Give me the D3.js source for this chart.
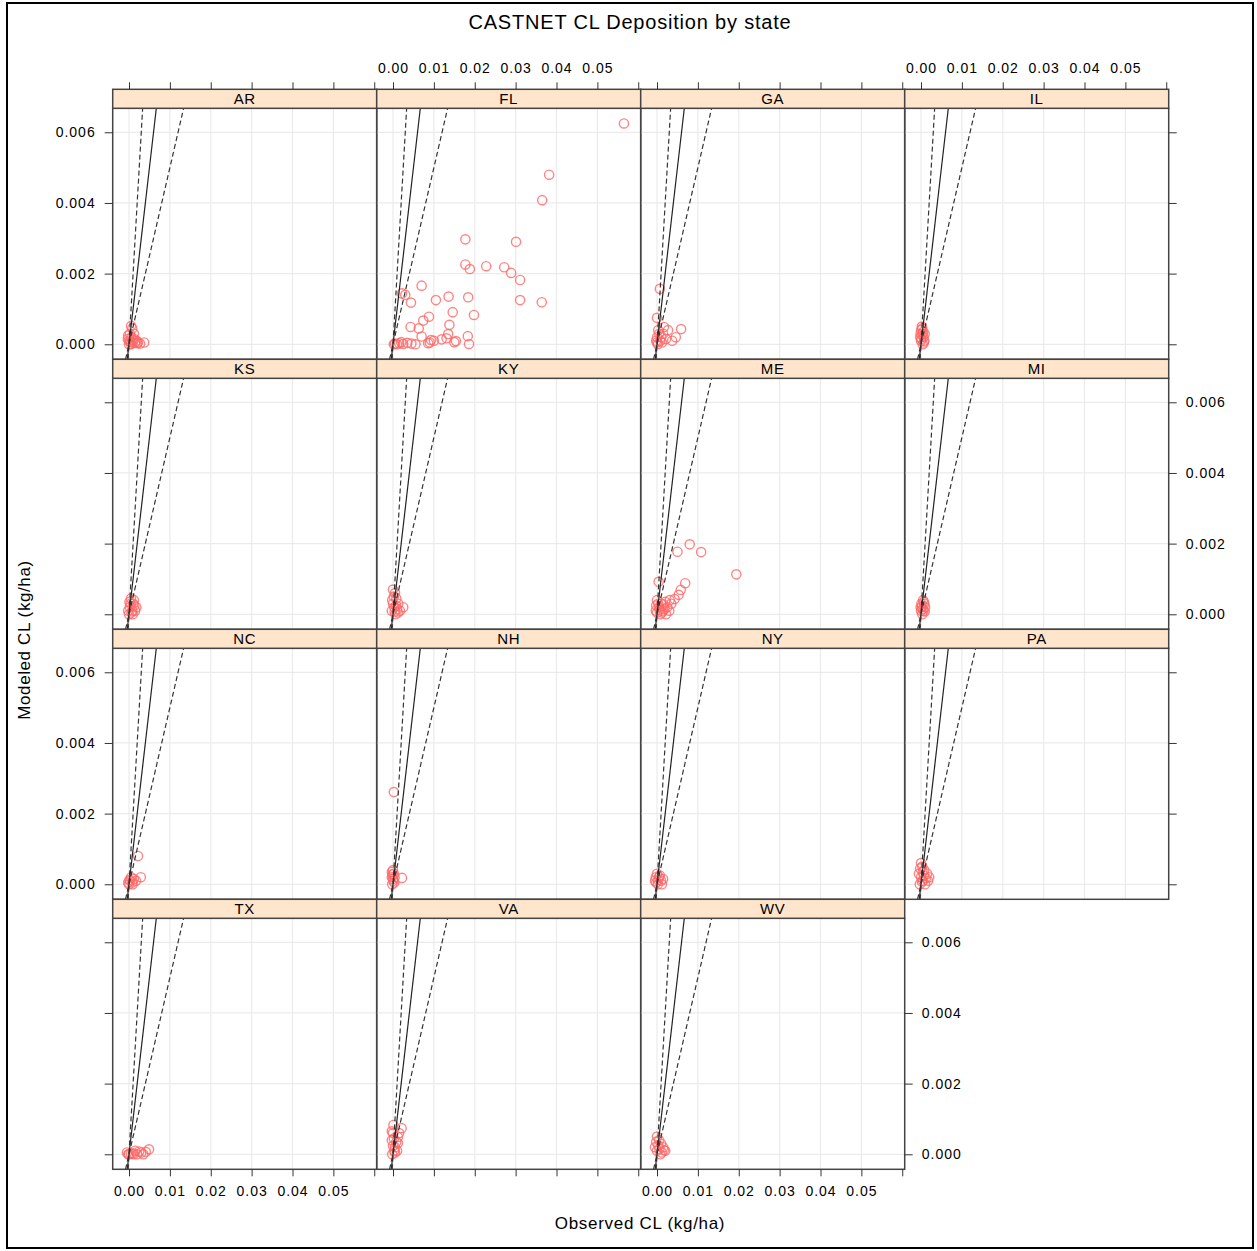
<!DOCTYPE html>
<html><head><meta charset="utf-8">
<script src="https://cdn.jsdelivr.net/npm/d3@7"></script>
<style>
body{margin:0;background:#fff;}
text{font-family:"Liberation Sans",Arial,sans-serif;fill:#000;}
</style></head>
<body><svg id="c" width="1257" height="1251"></svg>
<script>
// ---- data (observed, modeled) in kg/ha ----
const states = ["AR","FL","GA","IL","KS","KY","ME","MI","NC","NH","NY","PA","TX","VA","WV"];
const xTicks = [0,0.01,0.02,0.03,0.04,0.05,0.06];
const xLabels = ["0.00","0.01","0.02","0.03","0.04","0.05",""];
const yTicks = [0,0.002,0.004,0.006];
const yLabels = ["0.000","0.002","0.004","0.006"];

const AR = [[0.0005,0.00052],[0.0008,0.00045],[0.0002,0.0003],[0.0006,0.0002],[0.0,0.0001],[0.001,0.00012],[0.0015,0.00005],[0.0005,0.0],[0.002,0.00003],[0.0027,0.00002],[0.0037,0.00005],[-0.0003,0.00015],[0.0012,0.0003],[0.0,0.0],[0.0003,0.00008],[0.0009,0.00004],[0.0013,0.00015],[-0.0002,0.00025],[0.0018,0.0001],[0.0022,0.00006]];
const FL = [[0.0565,0.00625],[0.0382,0.0048],[0.0365,0.00408],[0.0177,0.00297],[0.0301,0.0029],[0.0177,0.00226],[0.0188,0.00213],[0.0228,0.00221],[0.0272,0.00218],[0.0289,0.00202],[0.0311,0.00182],[0.0070,0.00166],[0.0022,0.00144],[0.0030,0.0014],[0.0044,0.00118],[0.0105,0.00125],[0.0136,0.00135],[0.0184,0.00133],[0.0311,0.00125],[0.0364,0.00119],[0.0146,0.00091],[0.0198,0.00083],[0.0088,0.00078],[0.0074,0.00067],[0.0138,0.00055],[0.0043,0.00049],[0.0063,0.00045],[0.0070,0.00022],[0.0135,0.00029],[0.0183,0.00023],[0.0093,0.00012],[0.0119,0.00014],[0.0154,0.00009],[0.0186,0.00001],[0.0086,0.00003],[0.0131,0.00017],[0.0150,0.00006],[0.0005,0.00002],[0.0015,0.00003],[0.0025,0.00001],[0.0035,0.00004],[0.0045,0.00002],[0.0055,0.0],[0.0010,0.0],[0.0100,0.0001],[0.0090,0.00005],[0.0002,0.0],[0.0020,0.00006]];
const GA = [[0.0007,0.00157],[0.0,0.00075],[0.0017,0.00049],[0.0027,0.0004],[0.0059,0.00043],[0.0046,0.0002],[0.0037,0.0001],[0.0015,0.0003],[0.0003,0.0004],[0.0,0.0002],[0.0008,0.0001],[0.0002,0.0],[0.001,0.0002],[0.0022,0.00015],[0.0,0.00005],[0.0005,0.0003],[0.0012,0.00005],[-0.0002,0.0001]];
const IL = [[0.0,0.0004],[0.0003,0.0003],[0.0006,0.0002],[0.0,0.0001],[0.0004,0.0],[0.0008,0.0001],[0.0002,0.0005],[0.0009,0.0003],[-0.0002,0.0002],[0.0001,0.00015],[0.0005,0.00035],[0.0007,0.00005],[-0.0001,0.0003],[0.0003,0.00045]];
const KS = [[0.0005,0.00045],[0.001,0.0003],[0.0002,0.0002],[0.0015,0.0001],[0.0,0.0],[0.0008,0.0001],[0.0018,0.0002],[-0.0002,0.0001],[0.0012,0.0004],[0.0004,0.0003],[0.0006,0.00005],[0.0013,0.00025],[0.0001,0.00035],[0.0009,0.0]];
const KY = [[0.0,0.0007],[0.0005,0.0006],[0.0008,0.00045],[0.0025,0.0002],[0.0013,0.0003],[0.0,0.0003],[-0.0003,0.0001],[0.0006,0.0],[0.0017,0.0001],[0.0003,0.0002],[0.001,0.00015],[0.0002,0.0005],[-0.0002,0.0004],[0.0012,0.00005],[0.0004,0.00008],[0.0008,0.00025]];
const ME = [[0.0080,0.00198],[0.0050,0.00177],[0.0108,0.00176],[0.0194,0.00113],[0.0004,0.00092],[0.0069,0.00088],[0.0058,0.00069],[0.0053,0.00055],[0.0043,0.00043],[0.0031,0.0004],[0.0035,0.0003],[0.002,0.00035],[0.0025,0.0002],[0.0015,0.0001],[0.0005,0.0002],[0.0,0.0004],[0.0008,0.0],[0.003,0.0001],[0.001,0.0003],[-0.0003,0.0001],[0.0018,0.00015],[0.0,0.00005],[0.0003,0.0003],[0.0012,0.00005],[0.0022,0.0],[0.0006,0.00012],[-0.0002,0.00025],[0.0016,0.00028]];
const MI = [[0.0005,0.0004],[0.0008,0.0003],[0.0002,0.0002],[0.0,0.0001],[0.0006,0.0001],[0.0010,0.0002],[0.0003,0.0],[0.0007,0.00035],[0.0001,0.0003],[0.0009,0.00008],[0.0004,0.00015],[-0.0001,0.0002]];
const NC = [[0.0022,0.0008],[0.0029,0.0002],[0.0017,0.0001],[0.0008,0.00005],[0.0003,0.0001],[0.0,0.0],[0.0012,0.00015],[0.0005,0.0002],[-0.0002,0.00005],[0.0001,0.00012],[0.0009,0.0]];
const NH = [[0.0002,0.00261],[0.0022,0.00018],[0.0,0.0004],[0.0002,0.0003],[-0.0003,0.0002],[0.0001,0.0001],[-0.0002,0.0],[0.0004,0.0002],[0.0,0.00015],[-0.0003,0.00035],[0.0003,0.00005],[-0.0001,0.00028]];
const NY = [[0.0,0.0003],[0.0005,0.0002],[0.0010,0.0001],[-0.0005,0.0001],[0.0002,0.0],[0.0015,0.00015],[0.0007,0.00025],[-0.0002,0.00005],[0.0003,0.00012],[0.0012,0.0],[-0.0003,0.0002]];
const PA = [[0.0,0.0006],[0.0003,0.0005],[0.0008,0.0004],[0.0015,0.0003],[0.002,0.0002],[0.0005,0.0001],[0.0,0.0002],[-0.0005,0.0003],[0.001,0.0],[0.0017,0.0001],[-0.0003,0.0],[0.0004,0.00035],[0.0012,0.00018],[-0.0002,0.00045],[0.0007,0.00025],[0.0002,0.00008]];
const TX = [[0.0049,0.00014],[0.0041,0.00007],[0.003,0.00005],[0.002,0.0],[0.001,0.00003],[0.0,0.0],[-0.0005,0.00005],[0.0015,0.0001],[0.0025,0.00008],[0.0005,0.00002],[0.0035,0.0],[0.0012,0.0],[-0.0002,0.0]];
const VA = [[0.0001,0.00083],[0.0021,0.00074],[0.0012,0.00049],[0.0012,0.00032],[0.0,0.00024],[0.0003,0.0001],[0.0005,0.00005],[-0.0003,0.0004],[0.0,0.0006],[0.001,0.0001],[-0.0002,0.0],[0.0008,0.00035],[-0.0003,0.00065],[0.0005,0.0002],[0.0002,0.00045],[0.0015,0.0006]];
const WV = [[0.0,0.0005],[0.0005,0.0004],[0.0010,0.0003],[0.0015,0.0002],[0.002,0.0001],[0.0,0.0001],[-0.0005,0.0002],[0.0008,0.0],[0.0003,0.00025],[0.0012,0.00005],[-0.0002,0.00035],[0.0006,0.00015],[0.0017,0.00012]];
const stateData = {AR,FL,GA,IL,KS,KY,ME,MI,NC,NH,NY,PA,TX,VA,WV};
const refSlopes = [1, 2, 0.5];

// ---- layout ----
const svg = d3.select("#c");
const W = 1257, H = 1251;
const L0 = 112.7, T0 = 89.3, PW = 264, PH = 270, SH = 19, NC_ = 4;
const xDom = [-0.00399, 0.0606], yDom = [-0.000425, 0.006679];
const fontSize = 14;

svg.append("rect").attr("x",0).attr("y",0).attr("width",W).attr("height",H).attr("fill","#fff");
svg.append("rect").attr("x",7).attr("y",3).attr("width",1246).attr("height",1245)
  .attr("fill","none").attr("stroke","#000").attr("stroke-width",2);

svg.append("text").attr("x",630).attr("y",29).attr("text-anchor","middle")
  .style("font-size","20px").style("letter-spacing","0.8px").text("CASTNET CL Deposition by state");
svg.append("text").attr("x",640).attr("y",1229).attr("text-anchor","middle")
  .style("font-size","17px").style("letter-spacing","0.7px").text("Observed CL (kg/ha)");
svg.append("text").attr("transform","translate(30,640) rotate(-90)").attr("text-anchor","middle")
  .style("font-size","17px").style("letter-spacing","0.6px").text("Modeled CL (kg/ha)");

const nRows = Math.ceil(states.length/NC_);
const defs = svg.append("defs");

function styleAxis(g){
  g.select(".domain").remove();
  g.selectAll(".tick line").attr("stroke","#333").attr("stroke-width",1);
  g.selectAll(".tick text").style("font-size",fontSize+"px").style("letter-spacing","1px")
    .style("font-family","'Liberation Sans',Arial,sans-serif").attr("fill","#000");
}

states.forEach((st,i)=>{
  const r = Math.floor(i/NC_), c = i%NC_;
  const left = L0 + c*PW, top = T0 + r*PH;
  const pTop = top + SH, pBot = top + PH;
  const x = d3.scaleLinear().domain(xDom).range([left, left+PW]);
  const y = d3.scaleLinear().domain(yDom).range([pBot, pTop]);
  const g = svg.append("g");
  const cid = "clip"+i;
  defs.append("clipPath").attr("id",cid).append("rect")
    .attr("x",left).attr("y",pTop).attr("width",PW).attr("height",pBot-pTop);

  // grid
  g.selectAll(".gx").data(xTicks.slice(0,6)).join("line")
    .attr("x1",d=>x(d)).attr("x2",d=>x(d)).attr("y1",pTop).attr("y2",pBot)
    .attr("stroke","#ebebeb").attr("stroke-width",1.2);
  g.selectAll(".gy").data(yTicks).join("line")
    .attr("y1",d=>y(d)).attr("y2",d=>y(d)).attr("x1",left).attr("x2",left+PW)
    .attr("stroke","#ebebeb").attr("stroke-width",1.2);

  const cg = g.append("g").attr("clip-path",`url(#${cid})`);
  // points
  cg.selectAll("circle").data(stateData[st]).join("circle")
    .attr("cx",d=>x(d[0])).attr("cy",d=>y(d[1])).attr("r",4.6)
    .attr("fill","none").attr("stroke","#f66").attr("stroke-opacity",0.8).attr("stroke-width",1.4);
  // reference lines
  refSlopes.forEach(s=>{
    const x0 = yDom[0]/s, x1 = yDom[1]/s;
    cg.append("line").attr("x1",x(x0)).attr("y1",y(yDom[0])).attr("x2",x(x1)).attr("y2",y(yDom[1]))
      .attr("stroke", s===1 ? "#222" : "#333").attr("stroke-width",1.2)
      .attr("stroke-dasharray", s===1 ? null : "5,3");
  });

  // panel border
  g.append("rect").attr("x",left).attr("y",pTop).attr("width",PW).attr("height",pBot-pTop)
    .attr("fill","none").attr("stroke","#444").attr("stroke-width",1.5);
  // strip
  g.append("rect").attr("x",left).attr("y",top).attr("width",PW).attr("height",SH)
    .attr("fill","#ffe5cc").attr("stroke","#444").attr("stroke-width",1.5);
  g.append("text").attr("x",left+PW/2).attr("y",top+SH/2+5.5).attr("text-anchor","middle")
    .style("font-size","15px").style("letter-spacing","0.6px").text(st);

  const xl = d=>xLabels[xTicks.indexOf(d)];
  const yl = d=>yLabels[yTicks.indexOf(d)];
  const lastCol = (c===NC_-1) || (i===states.length-1);
  const isBottom = (i + NC_ >= states.length);

  // top axis (first row)
  if(r===0){
    const ax = d3.axisTop(x).tickValues(xTicks).tickSize(7).tickPadding(9)
      .tickFormat(c%2===1 ? xl : ()=>"");
    const a = svg.append("g").attr("transform",`translate(0,${top})`).call(ax); styleAxis(a);
  }
  // bottom axis
  if(isBottom && r===nRows-1){
    const ax = d3.axisBottom(x).tickValues(xTicks).tickSize(7).tickPadding(10)
      .tickFormat(c%2===0 ? xl : ()=>"");
    const a = svg.append("g").attr("transform",`translate(0,${pBot})`).call(ax); styleAxis(a);
  }
  // left axis
  if(c===0){
    const ax = d3.axisLeft(y).tickValues(yTicks).tickSize(8).tickPadding(9)
      .tickFormat(r%2===0 ? yl : ()=>"");
    const a = svg.append("g").attr("transform",`translate(${left},0)`).call(ax); styleAxis(a);
  }
  // right axis
  if(lastCol){
    const ax = d3.axisRight(y).tickValues(yTicks).tickSize(8).tickPadding(9)
      .tickFormat(r%2===1 ? yl : ()=>"");
    const a = svg.append("g").attr("transform",`translate(${left+PW},0)`).call(ax); styleAxis(a);
  }
});
</script></body></html>
